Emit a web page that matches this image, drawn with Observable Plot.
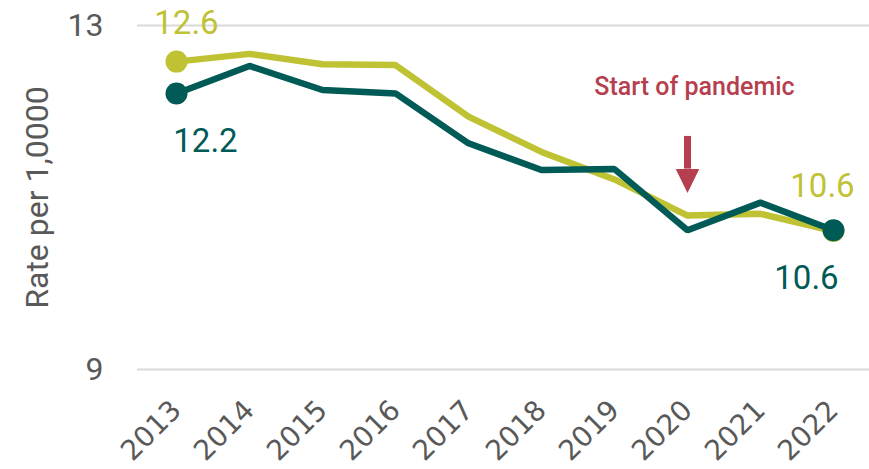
<!DOCTYPE html>
<html>
<head>
<meta charset="utf-8">
<script src="https://cdn.jsdelivr.net/npm/d3@7"></script>
<script src="https://cdn.jsdelivr.net/npm/@observablehq/plot@0.6"></script>
<style>
  html, body { margin: 0; padding: 0; background: #fff; }
  #chart svg { display: block; }
</style>
</head>
<body>
<div id="chart"></div>
<script>
// ---- data ----
const years = [2013, 2014, 2015, 2016, 2017, 2018, 2019, 2020, 2021, 2022];
const seriesLight = [12.58, 12.67, 12.55, 12.54, 11.94, 11.53, 11.21, 10.79, 10.81, 10.61];
const seriesDark  = [12.21, 12.53, 12.25, 12.21, 11.63, 11.32, 11.33, 10.62, 10.94, 10.62];
const yTicks = [9, 13];
const yLabel = "Rate per 1,0000";
const annotationText = "Start of pandemic";
const annotationYear = 2020;
const arrowTop = 11.71;
const arrowHeadTop = 11.33;
const annotationY = 12.19;

// ---- styles ----
const LIGHT = "#bec233";
const DARK = "#005a55";
const RED = "#b63f4f";
const GRAY = "#595959";
const FONT = "Roboto, 'Open Sans', sans-serif";
const YEAR_FONT = "'DejaVu Sans', Verdana, sans-serif";

const light = years.map((year, i) => ({year, value: seriesLight[i]}));
const dark = years.map((year, i) => ({year, value: seriesDark[i]}));
const fmt = d3.format(".1f");
const firstLast = arr => [arr[0], arr[arr.length - 1]];

const downTriangle = {
  draw(ctx, size) {
    const s = Math.sqrt(size / Math.PI);
    ctx.moveTo(-s * 0.98, 0);
    ctx.lineTo(s * 0.98, 0);
    ctx.lineTo(0, s * 2);
    ctx.closePath();
  }
};

const chart = Plot.plot({
  width: 869,
  height: 469,
  marginLeft: 137,
  marginRight: 0,
  marginTop: 25,
  marginBottom: 100,
  style: {color: GRAY, background: "#fff"},
  x: {type: "point", domain: years, range: [137, 872], padding: 0.5},
  y: {domain: [9, 13]},
  marks: [
    Plot.gridY(yTicks, {stroke: "#d9d9d9", strokeOpacity: 1, strokeWidth: 2}),
    Plot.axisY(yTicks, {tickSize: 0, tickPadding: 34, fontSize: 32, fontFamily: FONT, fill: GRAY,
      tickFormat: d3.format("d"), label: yLabel, labelAnchor: "center", labelArrow: "none", labelOffset: 112}),
    Plot.axisX(years, {tickSize: 0, tickPadding: 36, tickRotate: -45, fontSize: 28, fontFamily: YEAR_FONT,
      fill: GRAY, label: null, tickFormat: d => String(d)}),
    Plot.line(light, {x: "year", y: "value", stroke: LIGHT, strokeWidth: 6.5,
      strokeLinejoin: "miter", strokeLinecap: "butt"}),
    Plot.line(dark, {x: "year", y: "value", stroke: DARK, strokeWidth: 6.5,
      strokeLinejoin: "miter", strokeLinecap: "butt"}),
    Plot.dot(firstLast(light), {x: "year", y: "value", r: 11, fill: LIGHT}),
    Plot.dot(firstLast(dark), {x: "year", y: "value", r: 11, fill: DARK}),
    // value labels
    Plot.text([light[0]], {x: "year", y: "value", text: d => fmt(d.value), fill: LIGHT,
      fontFamily: FONT, fontSize: 33, lineAnchor: "bottom", dx: 10, dy: -28}),
    Plot.text([dark[0]], {x: "year", y: "value", text: d => fmt(d.value), fill: DARK,
      fontFamily: FONT, fontSize: 33, lineAnchor: "bottom", dx: 29, dy: 59}),
    Plot.text([light[light.length - 1]], {x: "year", y: "value", text: d => fmt(d.value), fill: LIGHT,
      fontFamily: FONT, fontSize: 33, lineAnchor: "bottom", dx: -11, dy: -34}),
    Plot.text([dark[dark.length - 1]], {x: "year", y: "value", text: d => fmt(d.value), fill: DARK,
      fontFamily: FONT, fontSize: 33, lineAnchor: "bottom", dx: -27, dy: 59}),
    // annotation
    Plot.text([annotationText], {x: annotationYear, y: annotationY, text: d => d, fill: RED,
      fontFamily: FONT, fontSize: 25, fontWeight: 500, lineAnchor: "bottom", dx: 7}),
    Plot.ruleX([annotationYear], {y1: arrowTop, y2: arrowHeadTop, stroke: RED, strokeWidth: 7}),
    Plot.dot([annotationYear], {x: d => d, y: arrowHeadTop, r: 12, symbol: downTriangle, fill: RED, stroke: null})
  ]
});

chart.querySelectorAll('g[aria-label="x-axis tick label"] text').forEach(t => {
  t.style.fontFamily = YEAR_FONT;
});
chart.querySelectorAll('g[aria-label="y-axis label"] text, g[aria-label="y-axis tick label"] text').forEach(t => {
  t.style.fontFamily = FONT;
});

document.getElementById("chart").appendChild(chart);
</script>
</body>
</html>
